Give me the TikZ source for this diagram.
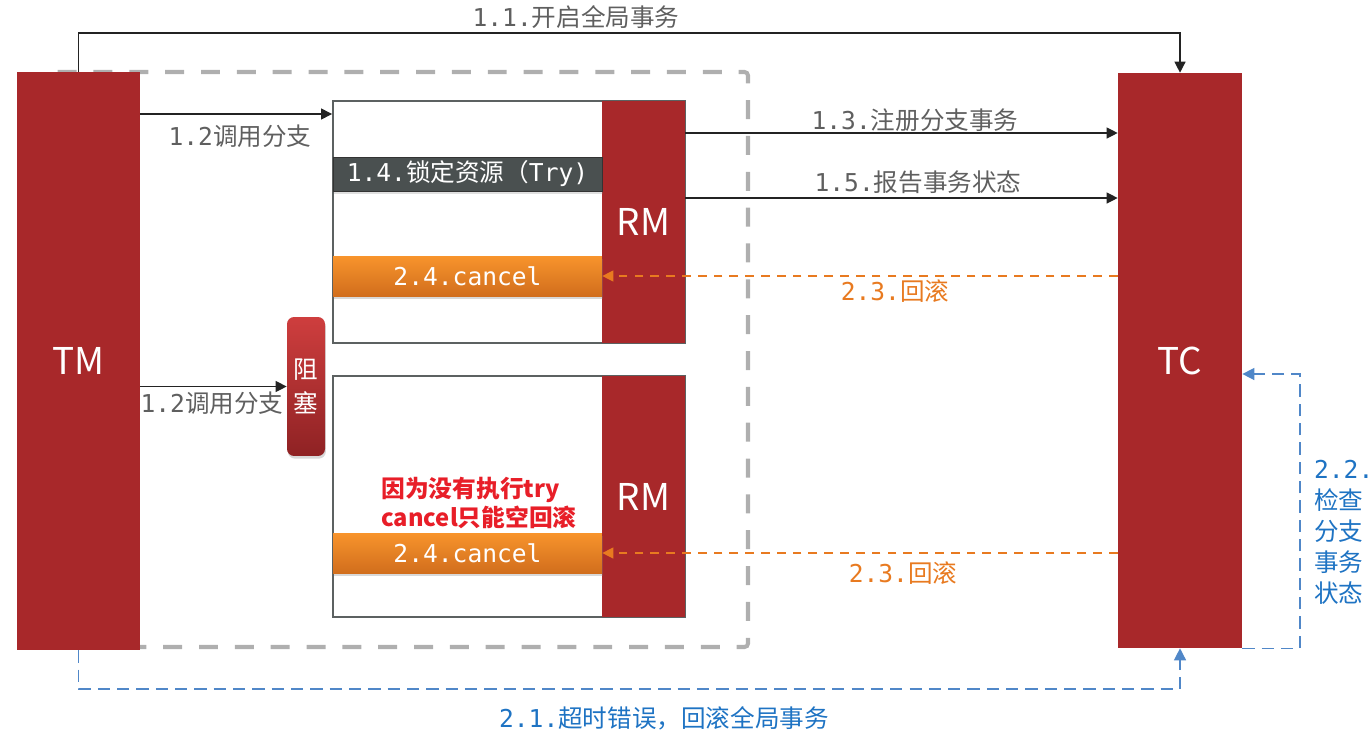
\documentclass[tikz,border=0pt]{standalone}
\usepackage{fontspec}
\setmainfont{Noto Sans CJK SC}
\setmonofont{DejaVu Sans Mono}
\usepackage{tikz}
\usetikzlibrary{arrows.meta,positioning,shadows}
\definecolor{cxred}{RGB}{168,40,42}
\definecolor{cxblocktop}{RGB}{206,62,62}
\definecolor{cxdark}{RGB}{74,80,80}
\definecolor{cxorange}{RGB}{232,122,32}
\definecolor{cxorangetop}{RGB}{248,148,44}
\definecolor{cxblue}{RGB}{80,135,200}
\definecolor{cxbluetext}{RGB}{30,115,195}
\definecolor{cxgray}{RGB}{95,95,95}
\definecolor{cxline}{RGB}{35,35,35}
\definecolor{cxframe}{RGB}{175,175,175}
\definecolor{cxnote}{RGB}{232,30,40}

\begin{document}
\begin{tikzpicture}[x=0.02cm,y=-0.02cm,
  role/.style={fill=cxred,text=white,font=\fontsize{21}{24}\selectfont,inner sep=0pt},
  branch/.style={draw=cxdark!90,line width=1.1pt,fill=white,minimum width=7.04cm,inner sep=0pt},
  bar/.style={text=white,minimum width=5.38cm,inner sep=0pt,font=\fontsize{14}{17}\selectfont},
  lbl/.style={text=cxgray,font=\fontsize{14}{17}\selectfont,inner sep=1pt},
  arr/.style={-{Triangle[length=0.22cm,width=0.22cm]},draw=cxline,line width=0.7pt},
  back/.style={-{Triangle[length=0.22cm,width=0.22cm]},draw=cxorange,line width=0.7pt,dash pattern=on 5pt off 4pt},
  chk/.style={-{Triangle[length=0.24cm,width=0.24cm]},draw=cxblue,line width=0.8pt,dash pattern=on 7pt off 4pt}]
  \useasboundingbox (0,0) rectangle (1371,734);
  % global transaction frame
  \draw[cxframe,line width=2.3pt,dash pattern=on 10.8pt off 9.6pt,rounded corners=2pt] (52,72) rectangle (748,647);
  \node[role,minimum width=2.46cm,minimum height=11.56cm] (tm) at (78.5,361) {TM};
  \node[role,minimum width=2.48cm,minimum height=11.5cm] (tc) at (1180,360.5) {TC};
  % upper branch
  \node[branch,minimum height=4.84cm] (box1) at (509,222) {};
  \node[role,minimum width=1.66cm,minimum height=4.84cm] (rm1) at (643.5,222) {RM};
  \node[bar,fill=cxdark,draw=black!80,minimum height=0.68cm,drop shadow={shadow xshift=0.5pt,shadow yshift=-1.5pt,opacity=0.25}] (try) at (467.5,174) {{\ttfamily 1.4.}锁定资源（{\ttfamily Try)}\hspace{0.5cm}};
  \node[bar,top color=cxorangetop,bottom color=cxorange!90!black,minimum height=0.8cm,drop shadow={shadow xshift=0.5pt,shadow yshift=-1.5pt,opacity=0.3}] (cancel1) at (467.5,276) {\ttfamily 2.4.cancel};
  % lower branch
  \node[branch,minimum height=4.82cm] (box2) at (509,496.5) {};
  \node[role,minimum width=1.66cm,minimum height=4.82cm] (rm2) at (643.5,496.5) {RM};
  \node[bar,top color=cxorangetop,bottom color=cxorange!90!black,minimum height=0.8cm,drop shadow={shadow xshift=0.5pt,shadow yshift=-1.5pt,opacity=0.3}] (cancel2) at (467.5,553) {\ttfamily 2.4.cancel};
  \node[text=cxnote,font=\bfseries\fontsize{13.5}{17}\selectfont,align=left,inner sep=0pt] (note) at (479,503) {因为没有执行try\\cancel只能空回滚};
  % blocked call
  \node[top color=cxblocktop,bottom color=cxred!85!black,rounded corners=4pt,minimum width=0.76cm,minimum height=2.78cm,inner sep=0pt,text=white,align=center,font=\fontsize{14}{19}\selectfont,drop shadow={shadow xshift=0.5pt,shadow yshift=-1.5pt,opacity=0.3}] (block) at (306,386.5) {阻\\塞};
  % begin + call
  \coordinate (top) at (0,33);
  \draw[arr] (tm.north) -- (tm.north |- top) -| (tc.north);
  \node[lbl] (l11) at (576,17) {{\ttfamily 1.1.}开启全局事务};
  \draw[arr] (tm.east |- 0,114) -- (box1.west |- 0,114);
  \node[lbl] (l12a) at (240,136) {{\ttfamily 1.2}调用分支};
  \draw[arr] (tm.east |- block) -- (block.west);
  \node[lbl] (l12b) at (212,403) {{\ttfamily 1.2}调用分支};
  \draw[arr] (rm1.east |- 0,133) -- (tc.west |- 0,133);
  \node[lbl] (l13) at (915,120) {{\ttfamily 1.3.}注册分支事务};
  \draw[arr] (rm1.east |- 0,198) -- (tc.west |- 0,198);
  \node[lbl] (l15) at (918,182) {{\ttfamily 1.5.}报告事务状态};
  % rollback
  \draw[back] (tc.west |- cancel1) -- (cancel1.east);
  \node[lbl,text=cxorange] (l23a) at (895,291) {{\ttfamily 2.3.}回滚};
  \draw[back] (tc.west |- cancel2) -- (cancel2.east);
  \node[lbl,text=cxorange] (l23b) at (903,573) {{\ttfamily 2.3.}回滚};
  \coordinate (bot) at (0,689);
  \draw[chk] (tm.south) -- (tm.south |- bot) -| (tc.south);
  \node[lbl,text=cxbluetext] (l21) at (664,718) {{\ttfamily 2.1.}超时错误，回滚全局事务};
  \coordinate (c22) at (1300,374);
  \draw[chk] (tc.south east) -| (c22) -- (tc.east |- c22);
  \node[lbl,text=cxbluetext,anchor=north west,align=left,font=\fontsize{14}{17.6}\selectfont] (l22) at (1312,458) {{\ttfamily 2.2.}\\检查\\分支\\事务\\状态};
\end{tikzpicture}
\end{document}
